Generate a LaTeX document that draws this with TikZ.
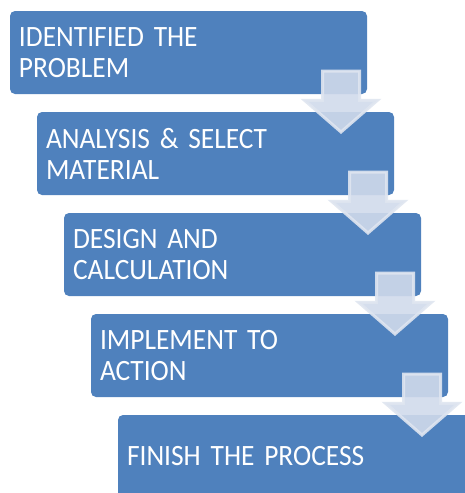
\documentclass[tikz,border=0pt]{standalone}
\usepackage{fontspec}
\setmainfont{Carlito}[FakeStretch=0.93,WordSpace=0.65]
\usepackage{tikz}
\usetikzlibrary{shapes.arrows}
\usetikzlibrary{calc}
\definecolor{stepblue}{HTML}{4F81BD}
\definecolor{arrowfill}{HTML}{D0DAEB}
\definecolor{arrowline}{HTML}{DFE5F0}
\tikzset{
  stepbox/.style={fill=stepblue,rounded corners=5pt,anchor=north west,outer sep=0pt,
    minimum width=357pt,minimum height=83pt,text width=339pt,inner xsep=9pt,inner ysep=0pt,
    align=left,text=white,font=\fontsize{29.5}{31}\selectfont},
  downarrow/.style={single arrow,shape border rotate=270,anchor=tip,outer sep=0pt,inner sep=17pt,
    minimum height=61pt,single arrow head extend=18pt,single arrow tip angle=98,
    fill=arrowfill,fill opacity=0.9,draw=arrowline,draw opacity=0.9,line width=3pt}
}

\begin{document}
\begin{tikzpicture}[x=1pt,y=1pt]
\useasboundingbox (0,0) rectangle (465,-493);
\clip (0,0) rectangle (465,-493);
\node[stepbox] (s1) at (10,-11) {IDENTIFIED THE\\PROBLEM};
\node[stepbox] (s2) at (37,-112) {ANALYSIS \& SELECT\\MATERIAL};
\node[stepbox] (s3) at (64,-213) {DESIGN AND\\CALCULATION};
\node[stepbox] (s4) at (91,-314) {IMPLEMENT TO\\ACTION};
\node[stepbox] (s5) at (118,-415) {FINISH THE PROCESS};
\node[downarrow] (a1) at ($(s1.south east)+(-26,-38)$) {};
\node[downarrow] (a2) at ($(s2.south east)+(-26,-38)$) {};
\node[downarrow] (a3) at ($(s3.south east)+(-26,-38)$) {};
\node[downarrow] (a4) at ($(s4.south east)+(-26,-38)$) {};
\end{tikzpicture}
\end{document}
